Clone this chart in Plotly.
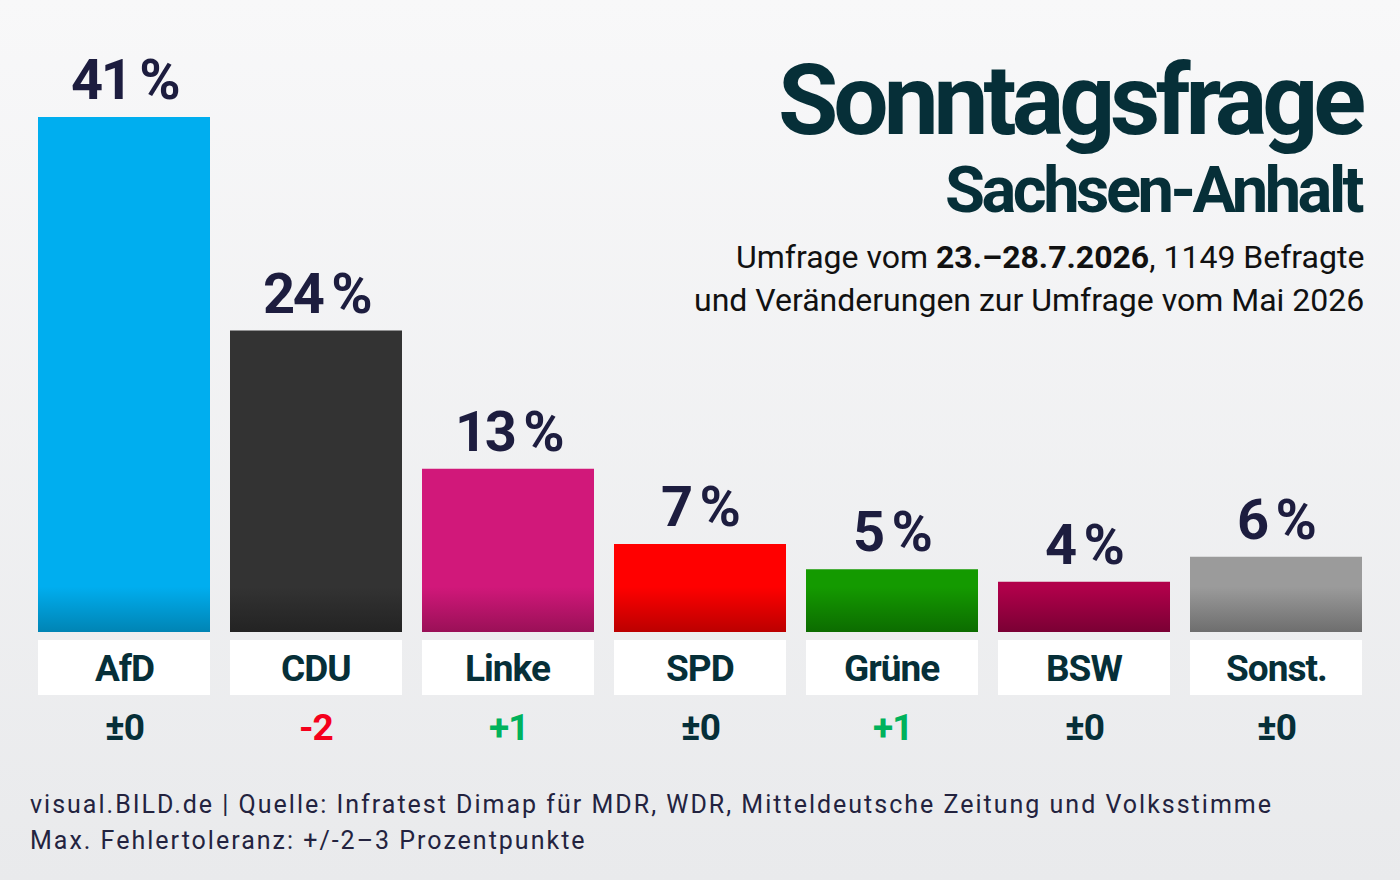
import plotly.graph_objects as go

# Sonntagsfrage Sachsen-Anhalt, Umfrage 23.-28.7.2026
parteien = ["AfD", "CDU", "Linke", "SPD", "Grüne", "BSW", "Sonst."]
werte = [41, 24, 13, 7, 5, 4, 6]
veraenderung = ["±0", "-2", "+1", "±0", "+1", "±0", "±0"]

farben = ["#00aeef", "#333333", "#d1187a", "#ff0000", "#149a00", "#b1004a", "#9b9b9b"]
farben_unten = ["#0084b4", "#232323", "#9a1057", "#bb0000", "#0c6c00", "#7a0034", "#6e6e6e"]

W, H = 1400, 880
PITCH = 192          # px pro Partei
X_START = 124        # Mitte der ersten Säule in px
BAR_W = 172 / PITCH
PX_PCT = 12.56       # px pro Prozentpunkt
BASE_PX = 632        # Grundlinie der Säulen in px
GRAD_H = 3.6         # Höhe des dunklen Verlaufs unten

COND = "Roboto, Lato, sans-serif"
LIGHT = "Roboto, Lato, sans-serif"
TEAL = "#062f38"
NAVY = "#1d1d3f"


def py(px):
    # Pixel von oben -> Datenkoordinate
    return (BASE_PX - px) / PX_PCT


def eng(text, ls):
    return f'<span style="letter-spacing:{ls}px">{text}</span>'


def farbe_delta(d):
    if d.startswith("-"):
        return "#f5001c"
    if d.startswith("+"):
        return "#00b25c"
    return TEAL


x = list(range(len(parteien)))
fig = go.Figure()

# Hintergrund mit leichtem Verlauf
fig.add_trace(go.Scatter(
    x=[0, 1, 1, 0], y=[0, 0, 1, 1], fill="toself", mode="none",
    fillgradient=dict(type="vertical", colorscale=[[0, "#e9eaec"], [1, "#f8f8f9"]]),
    hoverinfo="skip", showlegend=False, xaxis="x", yaxis="y",
))

# Säulen
fig.add_trace(go.Bar(
    x=x, y=werte, width=BAR_W, marker=dict(color=farben, line=dict(width=0)),
    hoverinfo="skip", showlegend=False, xaxis="x2", yaxis="y2",
))

# dunkler Verlauf am Fuß jeder Säule
for i, (v, c, cu) in enumerate(zip(werte, farben, farben_unten)):
    h = min(v, GRAD_H)
    fig.add_trace(go.Scatter(
        x=[i - BAR_W / 2, i + BAR_W / 2, i + BAR_W / 2, i - BAR_W / 2],
        y=[0, 0, h, h], fill="toself", mode="none",
        fillgradient=dict(type="vertical", start=0, stop=GRAD_H,
                          colorscale=[[0, cu], [1, c]]),
        hoverinfo="skip", showlegend=False, xaxis="x2", yaxis="y2",
    ))

# weiße Namensfelder
box_top, box_bot = py(640), py(695)
fig.add_trace(go.Bar(
    x=x, y=[box_top - box_bot] * len(x), base=box_bot, width=BAR_W,
    marker=dict(color="white", line=dict(width=0)),
    hoverinfo="skip", showlegend=False, xaxis="x2", yaxis="y2",
))

annotations = []
for i, (p, v, d) in enumerate(zip(parteien, werte, veraenderung)):
    annotations.append(dict(
        x=i, y=v, xref="x2", yref="y2", text=eng(f"<b>{v}\u2009%</b>", -2.5), showarrow=False,
        yanchor="bottom", yshift=2, font=dict(family=COND, size=56, color=NAVY),
    ))
    annotations.append(dict(
        x=i, y=py(668), xref="x2", yref="y2", text=eng(f"<b>{p}</b>", -1), showarrow=False,
        yanchor="middle", font=dict(family=COND, size=37, color=TEAL),
    ))
    annotations.append(dict(
        x=i, y=py(727), xref="x2", yref="y2", text=eng(f"<b>{d}</b>", -1), showarrow=False,
        yanchor="middle", font=dict(family=COND, size=37, color=farbe_delta(d)),
    ))

# Titelblock rechts oben
RX = 1366 / W
annotations += [
    dict(x=RX, y=1 - 100 / H, xref="paper", yref="paper", xanchor="right", yanchor="middle",
         text=eng("<b>Sonntagsfrage</b>", -5), showarrow=False,
         font=dict(family=COND, size=98, color=TEAL)),
    dict(x=RX, y=1 - 190 / H, xref="paper", yref="paper", xanchor="right", yanchor="middle",
         text=eng("<b>Sachsen-Anhalt</b>", -3.5), showarrow=False,
         font=dict(family=COND, size=65, color=TEAL)),
    dict(x=RX, y=1 - 257 / H, xref="paper", yref="paper", xanchor="right", yanchor="middle",
         text="Umfrage vom <b>23.–28.7.2026</b>, 1149 Befragte", showarrow=False,
         font=dict(family=LIGHT, size=32, color="#111111")),
    dict(x=RX, y=1 - 300 / H, xref="paper", yref="paper", xanchor="right", yanchor="middle",
         text="und Veränderungen zur Umfrage vom Mai 2026", showarrow=False,
         font=dict(family=LIGHT, size=32, color="#111111")),
    # Fußzeile
    dict(x=28 / W, y=1 - 804 / H, xref="paper", yref="paper", xanchor="left", yanchor="middle",
         text=eng("visual.BILD.de | Quelle: Infratest Dimap für MDR, WDR, Mitteldeutsche Zeitung und Volksstimme", 2),
         showarrow=False, font=dict(family=LIGHT, size=25, color="#23233f")),
    dict(x=28 / W, y=1 - 840 / H, xref="paper", yref="paper", xanchor="left", yanchor="middle",
         text=eng("Max. Fehlertoleranz: +/-2–3 Prozentpunkte", 2),
         showarrow=False, font=dict(family=LIGHT, size=25, color="#23233f")),
]

axis_off = dict(visible=False, showgrid=False, zeroline=False, fixedrange=True)
fig.update_layout(
    width=W, height=H, margin=dict(l=0, r=0, t=0, b=0, pad=0),
    paper_bgcolor="#f3f4f5", plot_bgcolor="rgba(0,0,0,0)",
    barmode="overlay", annotations=annotations,
    xaxis=dict(axis_off, domain=[0, 1], range=[0, 1]),
    yaxis=dict(axis_off, domain=[0, 1], range=[0, 1]),
    xaxis2=dict(axis_off, domain=[0, 1], overlaying="x",
                range=[-X_START / PITCH, (W - X_START) / PITCH]),
    yaxis2=dict(axis_off, domain=[0, 1], overlaying="y",
                range=[py(H), py(0)]),
)

fig.write_html("out.html", config={"displayModeBar": False},
               post_script="document.body.style.margin='0';")
